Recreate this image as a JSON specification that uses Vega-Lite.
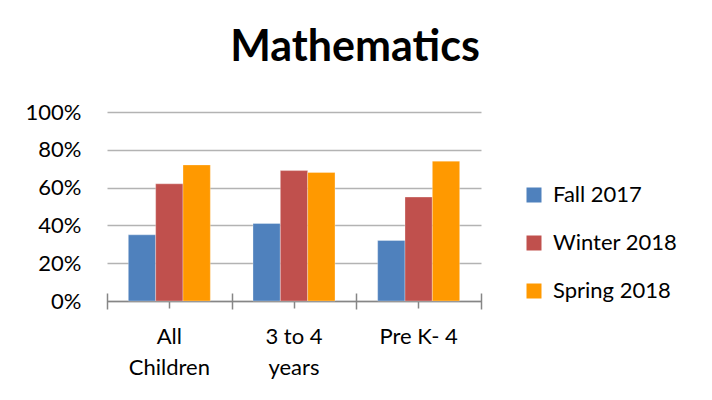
{
  "$schema": "https://vega.github.io/schema/vega-lite/v6.json",
  "autosize": {"type": "none"},
  "width": 374,
  "height": 189,
  "padding": {"left": 107, "top": 112, "right": 231, "bottom": 99},
  "background": "white",
  "title": {
    "text": "Mathematics",
    "font": "Lato",
    "fontSize": 43,
    "fontWeight": "bold",
    "color": "#000000",
    "anchor": "middle",
    "frame": "group",
    "dx": 61,
    "offset": 31
  },
  "data": {
    "values": [
      {"group": "All Children", "season": "Fall 2017", "value": 0.35},
      {"group": "All Children", "season": "Winter 2018", "value": 0.62},
      {"group": "All Children", "season": "Spring 2018", "value": 0.72},
      {"group": "3 to 4 years", "season": "Fall 2017", "value": 0.41},
      {"group": "3 to 4 years", "season": "Winter 2018", "value": 0.69},
      {"group": "3 to 4 years", "season": "Spring 2018", "value": 0.68},
      {"group": "Pre K- 4", "season": "Fall 2017", "value": 0.32},
      {"group": "Pre K- 4", "season": "Winter 2018", "value": 0.55},
      {"group": "Pre K- 4", "season": "Spring 2018", "value": 0.74}
    ]
  },
  "layer": [
    {
      "mark": {"type": "bar", "stroke": "white", "strokeWidth": 0.5, "strokeOpacity": 0.6},
      "encoding": {
        "x": {
          "field": "group",
          "type": "nominal",
          "sort": ["All Children", "3 to 4 years", "Pre K- 4"],
          "scale": {"paddingInner": 0, "paddingOuter": 0},
          "axis": {
            "orient": "bottom",
            "title": null,
            "labelAngle": 0,
            "labelFont": "Lato",
            "labelFontSize": 22,
            "labelColor": "#000000",
            "labelLineHeight": 31,
            "labelPadding": 25,
            "labelExpr": "datum.value == 'All Children' ? ['All', 'Children'] : datum.value == '3 to 4 years' ? ['3 to 4', 'years'] : datum.value",
            "domainColor": "#868686",
            "domainWidth": 1.5,
            "ticks": false,
            "grid": false
          }
        },
        "xOffset": {
          "field": "season",
          "type": "nominal",
          "sort": ["Fall 2017", "Winter 2018", "Spring 2018"],
          "scale": {"paddingInner": 0, "paddingOuter": 0.78}
        },
        "y": {
          "field": "value",
          "type": "quantitative",
          "scale": {"domain": [0, 1]},
          "axis": {
            "title": null,
            "format": ".0%",
            "values": [0, 0.2, 0.4, 0.6, 0.8, 1],
            "labelOverlap": false,
            "labelFont": "Lato",
            "labelFontSize": 22,
            "labelColor": "#000000",
            "labelPadding": 26,
            "domain": false,
            "ticks": false,
            "gridColor": "#B3B3B3",
            "gridWidth": 1.5
          }
        },
        "color": {
          "field": "season",
          "type": "nominal",
          "sort": ["Fall 2017", "Winter 2018", "Spring 2018"],
          "scale": {
            "domain": ["Fall 2017", "Winter 2018", "Spring 2018"],
            "range": ["#4F81BD", "#C0504D", "#FF9900"]
          },
          "legend": {
            "title": null,
            "orient": "none",
            "legendX": 416,
            "legendY": 72,
            "symbolType": "square",
            "symbolSize": 225,
            "symbolStrokeWidth": 0,
            "labelFont": "Lato",
            "labelFontSize": 22,
            "labelColor": "#000000",
            "labelOffset": 8,
            "rowPadding": 26
          }
        }
      }
    },
    {
      "mark": {"type": "tick", "opacity": 0},
      "encoding": {
        "x": {
          "field": "group",
          "type": "nominal",
          "sort": ["All Children", "3 to 4 years", "Pre K- 4"],
          "axis": {
            "orient": "bottom",
            "offset": -8,
            "title": null,
            "labels": false,
            "domain": false,
            "tickColor": "#868686",
            "tickWidth": 1.5,
            "tickSize": 16,
            "tickBand": "extent",
            "tickExtra": true,
            "grid": false
          }
        }
      }
    },
    {
      "mark": {"type": "tick", "opacity": 0},
      "encoding": {
        "x": {
          "field": "group",
          "type": "nominal",
          "sort": ["All Children", "3 to 4 years", "Pre K- 4"],
          "axis": {
            "orient": "bottom",
            "offset": -6,
            "title": null,
            "labels": false,
            "domain": false,
            "tickColor": "#868686",
            "tickWidth": 1.5,
            "tickSize": 13,
            "grid": false
          }
        }
      }
    }
  ],
  "resolve": {"axis": {"x": "independent"}},
  "config": {
    "view": {"stroke": null},
    "font": "Lato"
  }
}
